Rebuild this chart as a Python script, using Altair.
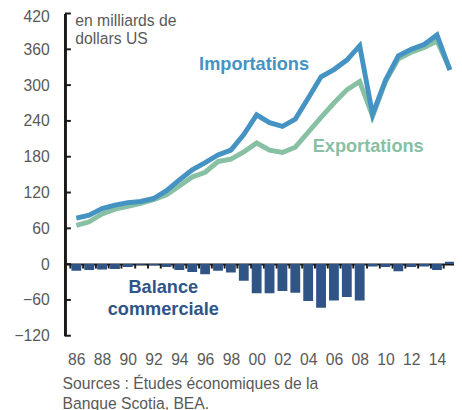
import altair as alt
import pandas as pd

# ---- data ----
years = list(range(1986, 2016))
imports = [77, 82, 93, 99, 103, 105, 110, 123, 141, 158, 170, 183, 191, 217, 250,
           237, 231, 243, 278, 314, 326, 342, 366, 251, 308, 349, 360, 368, 384, 325]
exports = [65, 71, 84, 92, 97, 102, 108, 116, 131, 146, 154, 172, 176, 188, 203,
           191, 187, 196, 221, 246, 270, 292, 306, 248, 306, 344, 355, 363, 374, 327]
balance = [-11, -10, -9, -8, -5, -1, -2, -5, -10, -13, -17, -11, -14, -28, -49,
           -49, -45, -48, -62, -73, -61, -55, -61, -4, -5, -12, -5, -4, -10, 4]
y_ticks = [-120, -60, 0, 60, 120, 180, 240, 300, 360, 420]
x_label_years = list(range(1986, 2015, 2))
band_edges = [y - 0.5 for y in years]

label_imports = {"year": [1999.8], "value": [336], "text": ["Importations"]}
label_exports = {"year": [2008.66], "value": [198], "text": ["Exportations"]}
label_balance = {"year": [1992.75], "value": [-39], "text": ["Balance\ncommerciale"]}

FONT = "Liberation Sans"
GRAY = "#595959"
BLUE = "#4593c3"
GREEN = "#88c0a4"
NAVY = "#2f5485"
BLACK = "#1a1a1a"

df = pd.DataFrame({"year": years, "imports": imports, "exports": exports, "balance": balance})

xscale = alt.Scale(domain=[1985.5, 2014.94], nice=False, zero=False)
yscale = alt.Scale(domain=[-120, 420], nice=False, zero=False)

yaxis = alt.Axis(
    orient="left",
    values=y_ticks, grid=False, domainColor=BLACK, domainWidth=3,
    ticks=False, tickSize=0, labelPadding=16, labelFont=FONT, labelFontSize=16,
    labelColor=GRAY,
    labelOffset={"condition": {"test": "datum.value == 420", "value": 3}, "value": 0},
    title=["en milliards de", "dollars US"], titleAngle=0, titleAlign="left",
    titleBaseline="top", titleX=10, titleY=-1, titleFont=FONT, titleFontSize=16,
    titleFontWeight="normal", titleColor=GRAY, titleLineHeight=18.5,
)

zero_axis = alt.Axis(
    orient="bottom",
    values=band_edges, offset=-72.9, grid=False, labels=False,
    domainColor=BLACK, domainWidth=2, tickColor=BLACK, tickWidth=2, tickSize=4,
    title=None,
)

label_axis = alt.Axis(
    orient="bottom",
    values=x_label_years, labelExpr="substring(toString(datum.value), 2, 4)",
    domain=False, ticks=False, tickSize=0, grid=False, labelPadding=16,
    labelFont=FONT, labelFontSize=16, labelColor=GRAY, labelFlush=False,
    labelOverlap=False,
    title=["Sources : Études économiques de la", "Banque Scotia, BEA."],
    titleAnchor="start", titleAlign="left", titleBaseline="top", titleX=-3,
    titleY=41, titleFont=FONT, titleFontSize=16, titleFontWeight="normal",
    titleColor=GRAY, titleLineHeight=20,
)


def Y(field):
    return alt.Y(field, scale=yscale, axis=yaxis)


bars = alt.Chart(df).mark_bar(size=10, color=NAVY, clip=True).encode(
    x=alt.X("year:Q", scale=xscale, axis=zero_axis),
    y=Y("balance:Q"),
)

exp_line = alt.Chart(df).mark_line(strokeWidth=5, color=GREEN, clip=True).encode(
    x=alt.X("year:Q", scale=xscale, axis=label_axis),
    y=Y("exports:Q"),
)

imp_line = alt.Chart(df).mark_line(strokeWidth=5, color=BLUE, clip=True).encode(
    x=alt.X("year:Q", scale=xscale, axis=None),
    y=Y("imports:Q"),
)

yticks_layer = alt.Chart(pd.DataFrame({"v": y_ticks})).mark_rule(
    color=BLACK, strokeWidth=2
).encode(
    y=Y("v:Q"),
    x=alt.value(0), x2=alt.value(6),
)


def text_layer(d, color, **kw):
    return alt.Chart(pd.DataFrame(d)).mark_text(
        font=FONT, fontSize=18.5, fontWeight="bold", color=color, **kw
    ).encode(
        x=alt.X("year:Q", scale=xscale, axis=None),
        y=Y("value:Q"),
        text="text:N",
    )


t_imp = text_layer(label_imports, BLUE)
t_exp = text_layer(label_exports, GREEN)
t_bal = text_layer(label_balance, NAVY, lineBreak="\n", lineHeight=22)

chart = alt.layer(
    bars, exp_line, imp_line, yticks_layer, t_imp, t_exp, t_bal
).resolve_axis(x="independent").properties(
    width=396, height=328,
    autosize=alt.AutoSizeParams(type="none"),
    padding={"left": 58, "top": 2, "right": 0, "bottom": 72},
    background="white",
).configure_view(stroke=None)

chart.save("out.html", embed_options={"renderer": "svg", "actions": False})
